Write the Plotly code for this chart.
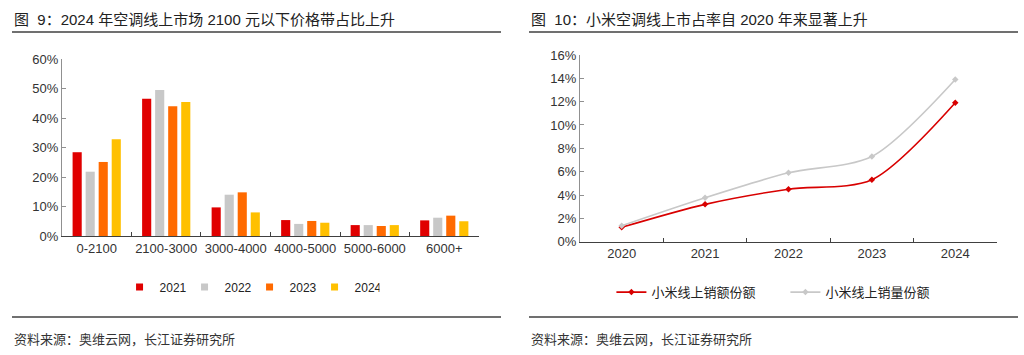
import plotly.graph_objects as go

# ---- data ----
price_bands = ["0-2100", "2100-3000", "3000-4000", "4000-5000", "5000-6000", "6000+"]
share_2021 = [0.284, 0.465, 0.097, 0.054, 0.037, 0.053]
share_2022 = [0.218, 0.495, 0.140, 0.041, 0.037, 0.062]
share_2023 = [0.251, 0.440, 0.148, 0.051, 0.034, 0.069]
share_2024 = [0.328, 0.454, 0.080, 0.045, 0.037, 0.050]
bar_years = ["2021", "2022", "2023", "2024"]

years = ["2020", "2021", "2022", "2023", "2024"]
xiaomi_sales_value_share = [0.0123, 0.032, 0.045, 0.053, 0.119]
xiaomi_sales_volume_share = [0.0137, 0.0377, 0.059, 0.073, 0.139]
line_names = ["小米线上销额份额", "小米线上销量份额"]

left_title = "图  9：2024 年空调线上市场 2100 元以下价格带占比上升"
right_title = "图  10：小米空调线上市占率自 2020 年来显著上升"
source_text = "资料来源：奥维云网，长江证券研究所"

FONT = "Liberation Sans, Arial, Noto Sans CJK SC, sans-serif"
CJK = "Noto Sans CJK SC, Liberation Sans, sans-serif"
bar_colors = ["#E00000", "#C8C8C8", "#FF6A00", "#FFC000"]

fig = go.Figure()
for name, vals, col in zip(bar_years, [share_2021, share_2022, share_2023, share_2024], bar_colors):
    fig.add_trace(go.Bar(x=price_bands, y=vals, name=name, marker_color=col,
                         marker_line_width=0, xaxis="x", yaxis="y", showlegend=False))
# small square legend keys for the bar chart
for name, col in zip(bar_years, bar_colors):
    fig.add_trace(go.Scatter(x=[None], y=[None], name=name, mode="markers",
                             marker=dict(symbol="square", size=7, color=col),
                             xaxis="x", yaxis="y", legend="legend"))

fig.add_trace(go.Scatter(x=years, y=xiaomi_sales_value_share, name=line_names[0],
                         mode="lines+markers",
                         line=dict(color="#D80000", width=1.6, shape="spline", smoothing=0.8),
                         marker=dict(symbol="diamond", size=5, color="#D80000"),
                         xaxis="x2", yaxis="y2", legend="legend2"))
fig.add_trace(go.Scatter(x=years, y=xiaomi_sales_volume_share, name=line_names[1],
                         mode="lines+markers",
                         line=dict(color="#C8C8C8", width=1.6, shape="spline", smoothing=0.8),
                         marker=dict(symbol="diamond", size=5, color="#C8C8C8"),
                         xaxis="x2", yaxis="y2", legend="legend2"))

axis_font = dict(family=FONT, size=13, color="#333333")

fig.update_layout(
    width=1024, height=355,
    margin=dict(l=0, r=0, t=0, b=0),
    paper_bgcolor="white", plot_bgcolor="white",
    barmode="group", bargap=0.25, bargroupgap=0.3,
    xaxis=dict(domain=[0.0605, 0.4678], anchor="y", type="category",
               categoryorder="array", categoryarray=price_bands, range=[-0.5, 5.5],
               showline=True, linecolor="#404040", linewidth=1, tickangle=0, automargin=False,
               ticks="inside", ticklen=4, tickcolor="#404040", tickson="boundaries",
               tickfont=axis_font, showgrid=False),
    yaxis=dict(domain=[0.3352, 0.8338], anchor="x", range=[0, 0.6], dtick=0.1, automargin=False,
               tickformat=".0%", showline=True, linecolor="#909090", linewidth=1,
               ticks="inside", ticklen=4, tickcolor="#909090",
               tickfont=axis_font, showgrid=False, zeroline=False),
    xaxis2=dict(domain=[0.5664, 0.9736], anchor="y2", type="category",
                categoryorder="array", categoryarray=years, range=[-0.5, 4.5],
                showline=True, linecolor="#404040", linewidth=1, tickangle=0, automargin=False,
                ticks="inside", ticklen=4, tickcolor="#404040", tickson="boundaries",
                tickfont=axis_font, showgrid=False),
    yaxis2=dict(domain=[0.3192, 0.8451], anchor="x2", range=[0, 0.16], dtick=0.02, automargin=False,
                tickformat=".0%", showline=True, linecolor="#909090", linewidth=1,
                ticks="inside", ticklen=4, tickcolor="#909090",
                tickfont=axis_font, showgrid=False, zeroline=False),
    legend=dict(orientation="h", x=0.2437, xanchor="center", y=0.1915, yanchor="middle",
                entrywidth=20, entrywidthmode="pixels", itemwidth=30,
                font=dict(family=FONT, size=12, color="#222222"), bgcolor="rgba(0,0,0,0)"),
    legend2=dict(orientation="h", x=0.767, xanchor="center", y=0.177, yanchor="middle",
                 entrywidth=129, entrywidthmode="pixels",
                 font=dict(family=CJK, size=13, color="#222222"), bgcolor="rgba(0,0,0,0)"),
    showlegend=True,
)

annotations = [
    dict(text=left_title, x=12 / 1024, y=1 - 19 / 355, xref="paper", yref="paper",
         xanchor="left", yanchor="middle", showarrow=False,
         font=dict(family=FONT, size=15, color="#222222")),
    dict(text=right_title, x=529 / 1024, y=1 - 19 / 355, xref="paper", yref="paper",
         xanchor="left", yanchor="middle", showarrow=False,
         font=dict(family=FONT, size=15, color="#222222")),
    dict(text=source_text, x=12 / 1024, y=1 - 338 / 355, xref="paper", yref="paper",
         xanchor="left", yanchor="middle", showarrow=False,
         font=dict(family=CJK, size=13, color="#333333")),
    dict(text=source_text, x=529 / 1024, y=1 - 338 / 355, xref="paper", yref="paper",
         xanchor="left", yanchor="middle", showarrow=False,
         font=dict(family=CJK, size=13, color="#333333")),
]
fig.update_layout(annotations=annotations)

shapes = []
for x0, x1 in [(12, 501), (529, 1018)]:
    for yy, w in [(32, 1.5), (317, 1.5)]:
        shapes.append(dict(type="line", xref="paper", yref="paper",
                           x0=x0 / 1024, x1=x1 / 1024, y0=1 - yy / 355, y1=1 - yy / 355,
                           line=dict(color="#404040", width=w)))
fig.update_layout(shapes=shapes)

fig.write_html("out.html", config={"displayModeBar": False},
               post_script="document.body.style.margin='0';document.body.style.overflow='hidden';")
